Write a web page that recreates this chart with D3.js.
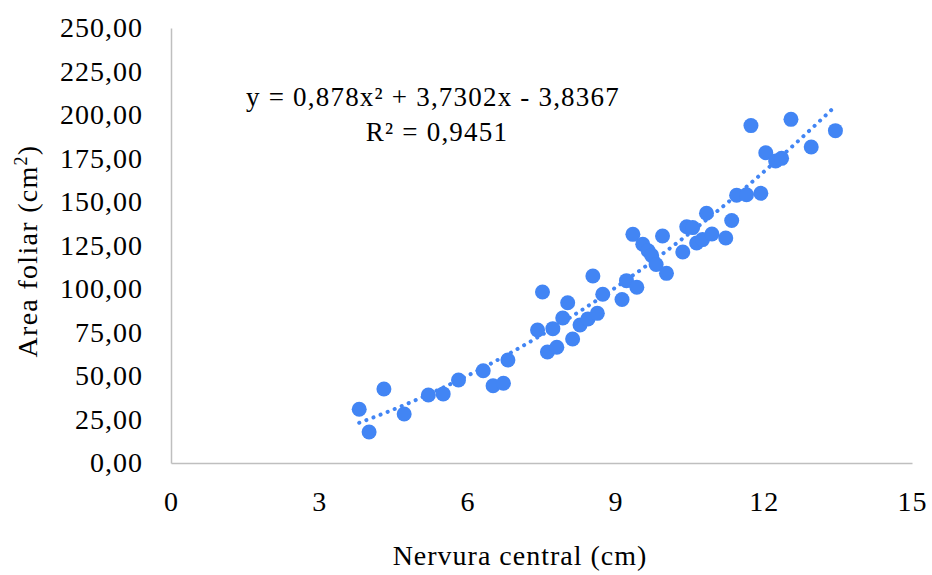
<!DOCTYPE html>
<html>
<head>
<meta charset="utf-8">
<script src="https://cdn.jsdelivr.net/npm/d3@7"></script>
<style>
  body { margin: 0; background: #fff; }
  svg text { font-family: "Liberation Serif", "DejaVu Serif", serif; fill: #000; }
</style>
</head>
<body>
<svg id="chart" width="932" height="575"></svg>
<script>
// nervura central (cm)
const nervura = [3.81, 4.01, 4.31, 4.72, 5.21, 5.51, 5.82, 6.32, 6.52, 6.73, 6.82, 7.42, 7.52, 7.62, 7.73, 7.81, 7.93, 8.03,
  8.13, 8.28, 8.44, 8.54, 8.63, 8.74, 9.13, 9.22, 9.35, 9.43, 9.55, 9.66, 9.73, 9.82, 9.95, 10.03, 10.36, 10.44, 10.56,
  10.64, 10.76, 10.84, 10.95, 11.23, 11.35, 11.45, 11.65, 11.74, 11.94, 12.04, 12.24, 12.36, 12.55, 12.96, 13.45]
// area foliar (cm2)
const area = [30.9, 17.8, 42.5, 28.2, 39.1, 39.7, 47.7, 53.0, 44.4, 45.8, 59.2, 76.4, 98.3, 63.8, 77.2, 66.5, 83.3, 92.1,
  71.3, 79.3, 82.8, 107.5, 86.0, 97.0, 94.0, 104.8, 131.4, 101.0, 125.7, 122.0, 119.3, 114.1, 130.5, 109.0, 121.3, 135.8, 135.3,
  126.4, 128.4, 143.5, 131.6, 129.3, 139.4, 153.9, 154.2, 193.9, 155.0, 178.3, 173.6, 175.1, 197.5, 181.6, 191.0]
const xTicks = [0, 3, 6, 9, 12, 15]
const yTicks = [0, 25, 50, 75, 100, 125, 150, 175, 200, 225, 250]
// polynomial trendline coefficients (a x^2 + b x + c)
const trendCoef = [0.878, 3.7302, -3.8367]
const eqLabel = 'y = 0,878x² + 3,7302x - 3,8367'
const r2Label = 'R² = 0,9451'

const svg = d3.select('#chart')
const mLeft = 171, mRight = 912, mTop = 28, mBottom = 463
const blue = '#4285f4'

const x = d3.scaleLinear().domain([0, 15]).range([mLeft, mRight])
const y = d3.scaleLinear().domain([0, 250]).range([mBottom, mTop])

const fmt = d => d3.format('.2f')(d).replace('.', ',')

// AXES
const yAxis = svg.append('g')
  .attr('transform', `translate(${mLeft},0)`)
  .attr('font-family', null)
  .call(d3.axisLeft(y).tickValues(yTicks).tickFormat(fmt).tickSize(0).tickPadding(28))
yAxis.attr('font-family', null).attr('font-size', null)
yAxis.select('.domain').attr('stroke', '#bfbfbf').attr('stroke-width', 1.5)
yAxis.selectAll('text').style('font-size', '28px').style('letter-spacing', '1px')

const xAxis = svg.append('g')
  .attr('transform', `translate(0,${mBottom})`)
  .call(d3.axisBottom(x).tickValues(xTicks).tickFormat(d3.format('d')).tickSize(0).tickPadding(28))
xAxis.attr('font-family', null).attr('font-size', null)
xAxis.select('.domain').attr('stroke', '#bfbfbf').attr('stroke-width', 1.5)
xAxis.selectAll('text').style('font-size', '28px').style('letter-spacing', '1px')

// TRENDLINE
const xMin = d3.min(nervura), xMax = d3.max(nervura)
const trendX = d3.range(0, 101).map(i => xMin + (xMax - xMin) * i / 100)
const poly = v => trendCoef[0] * v * v + trendCoef[1] * v + trendCoef[2]
svg.append('path')
  .datum(trendX)
  .attr('fill', 'none')
  .attr('stroke', blue)
  .attr('stroke-width', 4)
  .attr('stroke-linecap', 'round')
  .attr('stroke-dasharray', '0.1 7.5')
  .attr('d', d3.line().x(d => x(d)).y(d => y(poly(d))))

// POINTS
svg.append('g').selectAll('circle')
  .data(nervura.map((v, i) => [v, area[i]]))
  .join('circle')
  .attr('cx', d => x(d[0]))
  .attr('cy', d => y(d[1]))
  .attr('r', 7.5)
  .attr('fill', blue)

// EQUATION
svg.append('text').attr('x', 433).attr('y', 106).attr('text-anchor', 'middle')
  .style('font-size', '27px').style('letter-spacing', '1.2px').text(eqLabel)
svg.append('text').attr('x', 437).attr('y', 141).attr('text-anchor', 'middle')
  .style('font-size', '27px').style('letter-spacing', '1.2px').text(r2Label)

// AXIS TITLES
svg.append('text').attr('x', 520).attr('y', 565).attr('text-anchor', 'middle')
  .style('font-size', '28px').style('letter-spacing', '1px').text('Nervura central (cm)')

const yt = svg.append('text').attr('transform', 'translate(37,251) rotate(-90)')
  .attr('text-anchor', 'middle').style('font-size', '28px').style('letter-spacing', '1.3px')
yt.append('tspan').text('Area foliar (cm')
yt.append('tspan').attr('dy', -10).style('font-size', '18px').text('2')
yt.append('tspan').attr('dy', 10).text(')')
</script>
</body>
</html>
